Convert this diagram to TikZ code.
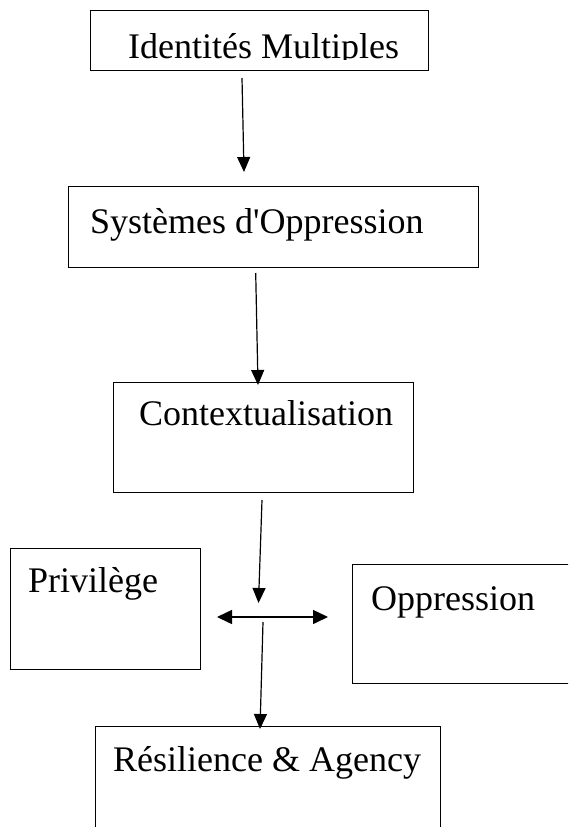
\documentclass[tikz,border=0pt]{standalone}
\usepackage{fontspec}
\setmainfont{Liberation Serif}[Ligatures=TeXOff]
\usetikzlibrary{arrows.meta}
\begin{document}
\begin{tikzpicture}[x=1pt,y=-1pt,
  box/.style={draw=black, line width=1.4pt, inner sep=0pt, anchor=north west},
  lbl/.style={inner sep=0pt, anchor=base west, font=\fontsize{36}{40}\selectfont},
  conn/.style={line width=1.2pt, -{Triangle[length=15pt,width=13pt]}},
  dconn/.style={line width=1.5pt, {Triangle[length=15pt,width=14pt]}-{Triangle[length=15pt,width=14pt]}}]
\useasboundingbox (0,0) rectangle (568,827);
\clip (0,0) rectangle (568,827);
\fill[white] (0,0) rectangle (568,827);
% boxes
\node[box, minimum width=338pt, minimum height=60pt] (b1) at (90,10) {};
\node[box, minimum width=410pt, minimum height=81pt] (b2) at (68,186) {};
\node[box, minimum width=300pt, minimum height=110.5pt] (b3) at (113,381.5) {};
\node[box, minimum width=190pt, minimum height=121pt] (bp) at (10,548) {};
\node[box, minimum width=248pt, minimum height=119pt] (bo) at (352,564) {};
\node[box, minimum width=345pt, minimum height=134pt] (br) at (95,726) {};
% labels
\begin{scope}
\clip (90,10) rectangle (428,59);
\node[lbl] (t1) at (128,58) {Identités Multiples};
\end{scope}
\node[lbl] (t2) at (90,233) {Systèmes d'Oppression};
\node[lbl] (t3) at (139,425.7) {Contextualisation};
\node[lbl] (tp) at (28,592) {Privilège};
\node[lbl] (to) at (371,610) {Oppression};
\node[lbl] (tr) at (113,771.7) {Résilience \& Agency};
% connector end points
\coordinate (a1s) at (242,78);   \coordinate (a1e) at (244,172);
\coordinate (a2s) at (255.7,273); \coordinate (a2e) at (258,385);
\coordinate (a3s) at (262,500);  \coordinate (a3e) at (258.5,603);
\coordinate (dl) at (217,617);   \coordinate (dr) at (328,617);
\coordinate (a4s) at (263,622);  \coordinate (a4e) at (260,729);
\draw[conn] (a1s) -- (a1e);
\draw[conn] (a2s) -- (a2e);
\draw[conn] (a3s) -- (a3e);
\draw[dconn] (dl) -- (dr);
\draw[conn] (a4s) -- (a4e);
\end{tikzpicture}
\end{document}
